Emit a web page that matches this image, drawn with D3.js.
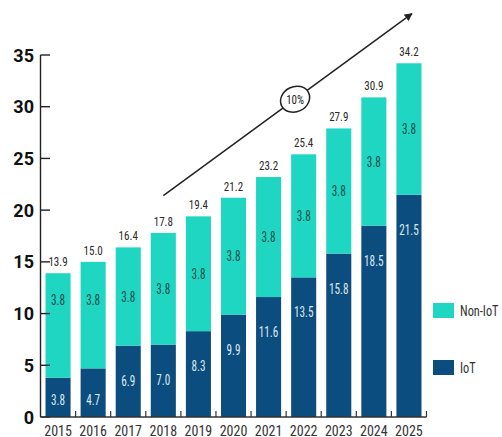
<!DOCTYPE html>
<html>
<head>
<meta charset="utf-8">
<script src="https://cdn.jsdelivr.net/npm/d3@7"></script>
<style>
  html, body { margin: 0; padding: 0; background: #ffffff; }
  svg { display: block; }
</style>
</head>
<body>
<svg id="chart" width="502" height="437"></svg>
<script>
// Device shipments by year, stacked IoT / Non-IoT
const years = ["2015", "2016", "2017", "2018", "2019", "2020", "2021", "2022", "2023", "2024", "2025"];
const iotValues = [3.8, 4.7, 6.9, 7.0, 8.3, 9.9, 11.6, 13.5, 15.8, 18.5, 21.5];
const totalValues = [13.9, 15.0, 16.4, 17.8, 19.4, 21.2, 23.2, 25.4, 27.9, 30.9, 34.2];
const nonIotLabels = ["3.8", "3.8", "3.8", "3.8", "3.8", "3.8", "3.8", "3.8", "3.8", "3.8", "3.8"];
const yTickValues = [0, 5, 10, 15, 20, 25, 30, 35];
const seriesNames = ["Non-IoT", "IoT"];
const growthLabel = "10%";
// growth arrow endpoints: [year, value]
const arrowStart = ["2018", 21.4];
const arrowEnd = ["2025", 39];

const colors = { "Non-IoT": "#1fd6c2", "IoT": "#0b4d7e" };
const narrow = "'Liberation Sans Narrow', 'Arial Narrow', 'Roboto Condensed', sans-serif";

const svg = d3.select("#chart");

const x = d3.scaleBand()
  .domain(years)
  .range([40.5, 426.5])
  .paddingInner(0.2857)
  .paddingOuter(0.1429);

const y = d3.scaleLinear()
  .domain([0, 35])
  .range([417, 55]);

const rows = years.map((yr, i) => ({
  year: yr,
  iot: iotValues[i],
  nonIot: +(totalValues[i] - iotValues[i]).toFixed(1),
  total: totalValues[i],
  nonIotLabel: nonIotLabels[i]
}));

// horizontally squeezed text helper
function squeezed(sel, fx, fy, sx) {
  return sel.attr("transform", (d, i) => `translate(${fx(d, i)},${fy(d, i)}) scale(${sx},1)`);
}

// bars
const bars = svg.append("g").selectAll("g").data(rows).join("g");

bars.append("rect")
  .attr("x", d => x(d.year))
  .attr("width", x.bandwidth())
  .attr("y", d => y(d.iot))
  .attr("height", d => y(0) - y(d.iot))
  .attr("fill", colors["IoT"]);

bars.append("rect")
  .attr("x", d => x(d.year))
  .attr("width", x.bandwidth())
  .attr("y", d => y(d.total))
  .attr("height", d => y(d.iot) - y(d.total))
  .attr("fill", colors["Non-IoT"]);

// total labels
squeezed(bars.append("text"),
    d => x(d.year) + x.bandwidth() / 2,
    d => y(d.total) - 7, 0.82)
  .attr("text-anchor", "middle")
  .attr("font-family", narrow)
  .attr("font-size", 13.5)
  .attr("fill", "#2b2b2b")
  .text(d => d.total.toFixed(1));

// Non-IoT segment labels
squeezed(bars.append("text"),
    d => x(d.year) + x.bandwidth() / 2,
    d => Math.min((y(d.total) + y(d.iot)) / 2, y(11.3)) + 5, 0.8)
  .attr("text-anchor", "middle")
  .attr("font-family", narrow)
  .attr("font-size", 14)
  .attr("fill", "#1d4a48")
  .text(d => d.nonIotLabel);

// IoT segment labels
squeezed(bars.append("text"),
    d => x(d.year) + x.bandwidth() / 2,
    d => Math.min(y(d.iot) + 35, y(0) - 17) + 5, 0.8)
  .attr("text-anchor", "middle")
  .attr("font-family", narrow)
  .attr("font-size", 14)
  .attr("fill", "#dfe9f1")
  .text(d => d.iot.toFixed(1));

// y axis
const yAxis = svg.append("g");
yAxis.append("line")
  .attr("x1", 40.5).attr("x2", 40.5)
  .attr("y1", y(35)).attr("y2", y(0))
  .attr("stroke", "#222").attr("stroke-width", 1.4);
yAxis.selectAll(".tick").data(yTickValues).join("line")
  .attr("x1", 40.5).attr("x2", 50)
  .attr("y1", d => y(d)).attr("y2", d => y(d))
  .attr("stroke", "#222").attr("stroke-width", 1.4);
yAxis.selectAll(".lbl").data(yTickValues).join("text")
  .attr("x", 34)
  .attr("y", d => y(d) + 6.5)
  .attr("text-anchor", "end")
  .attr("font-family", "Roboto, 'DejaVu Sans', sans-serif")
  .attr("font-weight", 700)
  .attr("font-size", 18)
  .attr("fill", "#111")
  .text(d => d);

// x axis
const step = x.step();
const xAxis = svg.append("g");
xAxis.append("line")
  .attr("x1", 40.5).attr("x2", 426.5)
  .attr("y1", y(0)).attr("y2", y(0))
  .attr("stroke", "#333").attr("stroke-width", 1.4);
xAxis.selectAll(".tick").data(years.slice(1)).join("line")
  .attr("x1", d => x(d) - (step - x.bandwidth()) / 2)
  .attr("x2", d => x(d) - (step - x.bandwidth()) / 2)
  .attr("y1", y(0)).attr("y2", y(0) - 6)
  .attr("stroke", "#333").attr("stroke-width", 1.2);
xAxis.append("line")
  .attr("x1", 426.5).attr("x2", 426.5)
  .attr("y1", y(0)).attr("y2", y(0) - 6)
  .attr("stroke", "#333").attr("stroke-width", 1.2);
xAxis.selectAll(".lbl").data(years).join("text")
  .attr("x", d => x(d) + x.bandwidth() / 2)
  .attr("y", 435.5)
  .attr("text-anchor", "middle")
  .attr("font-family", narrow)
  .attr("font-size", 14)
  .attr("fill", "#333")
  .text(d => d);

// growth arrow
const ax1 = x(arrowStart[0]) + x.bandwidth() / 2, ay1 = y(arrowStart[1]);
const ax2 = x(arrowEnd[0]) + x.bandwidth() / 2 + 3, ay2 = y(arrowEnd[1]);
svg.append("defs").append("marker")
  .attr("id", "arrowhead")
  .attr("viewBox", "0 0 10 10")
  .attr("refX", 9).attr("refY", 5)
  .attr("markerWidth", 8).attr("markerHeight", 8)
  .attr("markerUnits", "userSpaceOnUse")
  .attr("orient", "auto")
  .append("path").attr("d", "M0,0 L10,5 L0,10 Z").attr("fill", "#222");

svg.append("line")
  .attr("x1", ax1).attr("y1", ay1)
  .attr("x2", ax2).attr("y2", ay2)
  .attr("stroke", "#222").attr("stroke-width", 1.5)
  .attr("marker-end", "url(#arrowhead)");

const angle = Math.atan2(ay2 - ay1, ax2 - ax1) * 180 / Math.PI;
const cx = ax1 + (ax2 - ax1) * 0.53, cy = ay1 + (ay2 - ay1) * 0.53;
svg.append("ellipse")
  .attr("cx", cx).attr("cy", cy)
  .attr("rx", 15).attr("ry", 12.5)
  .attr("transform", `rotate(${angle + 10},${cx},${cy})`)
  .attr("fill", "#fff").attr("stroke", "#222").attr("stroke-width", 1.5);
svg.append("text")
  .attr("transform", `translate(${cx},${cy + 4.5}) scale(0.85,1)`)
  .attr("text-anchor", "middle")
  .attr("font-family", narrow)
  .attr("font-size", 13)
  .attr("fill", "#222")
  .text(growthLabel);

// legend
const legend = svg.append("g").selectAll("g").data(seriesNames).join("g")
  .attr("transform", (d, i) => `translate(433, ${i === 0 ? 303 : 360})`);
legend.append("rect")
  .attr("width", 21).attr("height", 15)
  .attr("fill", d => colors[d]);
legend.append("text")
  .attr("transform", "translate(27,12.5) scale(0.88,1)")
  .attr("font-family", narrow)
  .attr("font-size", 14)
  .attr("fill", "#333")
  .text(d => d);
</script>
</body>
</html>
